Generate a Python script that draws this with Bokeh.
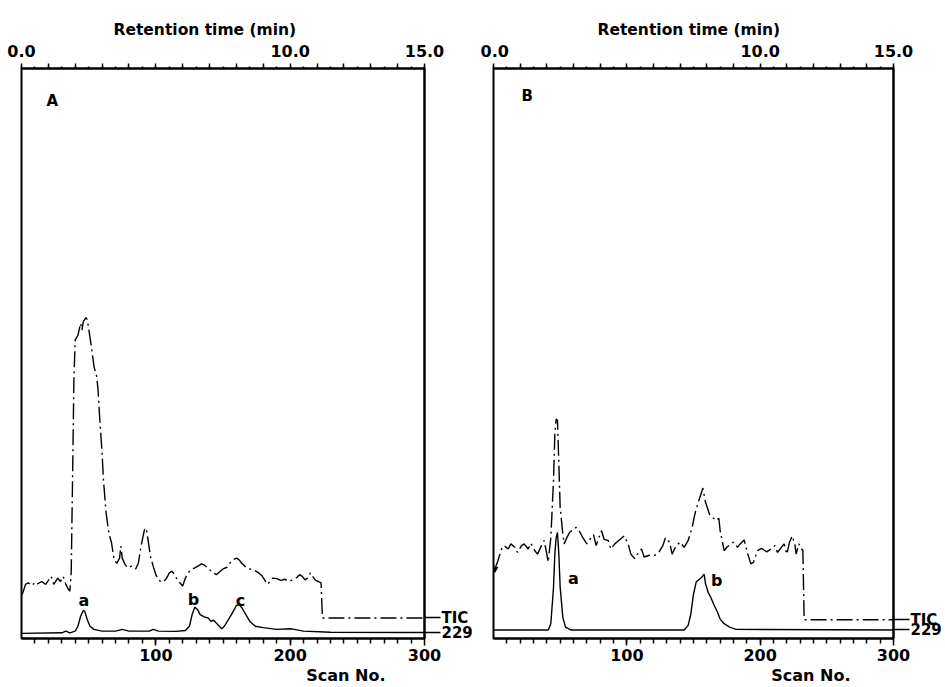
from bokeh.plotting import figure
from bokeh.models import Range1d, LinearAxis, FixedTicker, Label, ColumnDataSource, Title
from bokeh.layouts import row
from bokeh.embed import file_html
from bokeh.resources import INLINE
from bokeh.core.properties import value

FONT = "DejaVu Sans"

# ---------------- data (relative intensity, % of full scale) ----------------
# Panel A : total ion current (TIC) and m/z 229 trace
scans_tic_a = [0, 1, 3, 5, 8, 10, 12, 15, 18, 22,
               24, 27, 29, 31, 33, 35, 36, 37, 38, 39,
               40, 42, 44, 45, 46, 48, 49, 50, 52, 54,
               56, 57, 58, 60, 61, 62, 63, 65, 67, 69,
               71, 73, 74, 75, 77, 79, 82, 85, 87, 89,
               91, 92, 93, 94, 96, 98, 100, 102, 104, 106,
               108, 110, 112, 114, 116, 118, 120, 122, 124, 126,
               129, 132, 134, 136, 138, 140, 142, 145, 148, 150,
               153, 156, 158, 160, 162, 164, 167, 170, 173, 176,
               179, 181, 183, 185, 187, 190, 193, 196, 199, 202,
               205, 207, 209, 211, 213, 215, 217, 219, 221, 223,
               224, 300]
tic_a = [7.7, 8.0, 9.5, 9.75, 9.3, 9.9, 9.6, 10.0, 9.5, 10.9,
         9.5, 10.6, 10.0, 10.9, 9.5, 8.6, 8.3, 11.5, 27.8, 45.4,
         52.4, 53.2, 55.3, 54.1, 55.6, 56.3, 55.9, 54.4, 51.2, 47.7,
         45.9, 43.6, 39.5, 32.5, 27.8, 24.9, 22.0, 18.5, 16.8, 13.8,
         13.2, 14.1, 16.2, 14.1, 13.0, 12.4, 12.7, 12.2, 13.2, 16.2,
         18.5, 19.4, 19.1, 17.6, 14.4, 12.7, 11.2, 10.3, 9.9, 10.0,
         10.6, 11.5, 11.8, 11.2, 10.3, 9.75, 9.2, 10.6, 11.5, 12.1,
         12.4, 12.8, 13.1, 12.9, 12.5, 12.1, 11.6, 11.2, 11.8, 12.2,
         12.5, 13.5, 13.9, 14.1, 13.8, 13.2, 12.5, 12.2, 12.0, 11.6,
         11.0, 10.3, 9.5, 10.0, 10.6, 10.5, 10.2, 10.4, 10.0, 10.3,
         10.7, 11.2, 10.9, 10.3, 10.6, 11.5, 10.8, 10.2, 10.0, 9.75,
         3.6, 3.6]
scans_ion_a = [0, 30, 33, 36, 40, 42, 44, 46, 47, 49,
               51, 54, 60, 70, 75, 80, 95, 98, 102, 115,
               122, 125, 127, 129, 131, 133, 136, 139, 141, 143,
               146, 149, 151, 154, 157, 160, 162, 164, 167, 170,
               174, 180, 190, 200, 203, 210, 230, 300]
ion_a = [0.9, 1.0, 1.3, 1.0, 1.3, 2.15, 3.9, 4.9, 4.8, 3.3,
         2.15, 1.6, 1.3, 1.3, 1.6, 1.3, 1.3, 1.6, 1.3, 1.25,
         1.4, 2.15, 4.2, 5.5, 5.1, 4.2, 3.8, 3.6, 3.0, 3.2,
         2.45, 1.7, 2.15, 3.3, 4.5, 5.8, 5.9, 5.4, 4.2, 3.0,
         2.15, 1.9, 1.6, 1.7, 1.6, 1.3, 1.1, 1.05]
tic_level_a = 3.6
ion_level_a = 1.05
peaks_a = ["a", "b", "c"]
peak_x_a = [46.5, 128, 163]
peak_y_a = [6.6, 6.9, 6.6]

# Panel B
scans_tic_b = [1, 3, 6, 8, 11, 13, 16, 18, 21, 23,
               26, 28, 31, 33, 36, 38, 40, 41, 43, 45,
               46, 47, 48, 49, 50, 52, 53, 55, 57, 60,
               62, 65, 67, 70, 72, 75, 77, 79, 81, 83,
               86, 88, 91, 95, 98, 101, 103, 106, 108, 111,
               113, 117, 121, 124, 127, 129, 132, 134, 137, 140,
               143, 146, 149, 151, 154, 156, 157, 159, 162, 164,
               167, 169, 170, 173, 175, 178, 180, 183, 185, 188,
               190, 193, 195, 198, 201, 205, 208, 211, 213, 216,
               218, 220, 222, 224, 226, 227, 229, 231, 232, 233,
               300]
tic_b = [12.2, 13.4, 15.7, 16.3, 15.7, 16.6, 16.0, 15.1, 16.3, 16.6,
         15.7, 16.7, 15.4, 14.8, 16.3, 17.2, 14.8, 13.4, 17.7, 27.7,
         35.8, 38.5, 38.2, 30.6, 23.0, 18.3, 16.6, 17.7, 18.6, 19.2,
         19.5, 18.6, 17.7, 16.6, 17.3, 18.2, 16.3, 17.7, 18.9, 17.4,
         17.2, 15.7, 16.6, 17.4, 18.0, 16.6, 14.8, 14.0, 14.8, 15.7,
         14.3, 14.6, 14.6, 15.1, 16.3, 17.7, 16.9, 14.8, 16.3, 16.9,
         16.0, 17.2, 19.5, 21.8, 24.2, 25.6, 26.4, 23.9, 21.8, 21.3,
         20.7, 21.1, 18.9, 15.4, 16.0, 16.6, 16.9, 16.0, 16.6, 17.3,
         15.4, 13.1, 13.4, 15.4, 15.8, 15.2, 15.7, 16.3, 15.1, 16.0,
         16.6, 14.8, 16.9, 18.0, 16.6, 14.8, 16.6, 15.7, 15.5, 3.3,
         3.3]
scans_ion_b = [0, 41, 43, 45, 46, 47, 48, 49, 50, 52,
               54, 58, 143, 146, 148, 150, 152, 154, 156, 158,
               159, 161, 163, 165, 168, 170, 173, 177, 182, 300]
ion_b = [1.5, 1.5, 2.6, 9.0, 14.8, 17.7, 18.6, 14.8, 9.0, 3.7,
         2.0, 1.5, 1.5, 2.3, 4.3, 7.8, 9.9, 10.3, 10.7, 11.3,
         9.6, 8.1, 7.2, 6.1, 4.6, 3.4, 2.6, 2.0, 1.6, 1.5]
tic_level_b = 3.3
ion_level_b = 1.5
peaks_b = ["a", "b"]
peak_x_b = [60, 167.5]
peak_y_b = [10.5, 10.2]

# axis ticks
scan_labeled = [100, 200, 300]
scan_minor = list(range(10, 300, 10))
time_major = [float(t) for t in range(0, 16)]
time_minor = [t * 0.5 for t in range(0, 31)]
time_labeled = [0.0, 10.0, 15.0]


def make_panel(letter, scans_tic, tic, scans_ion, ion, tic_level, ion_level,
               peaks, peak_x, peak_y, width, border_left, border_right, border_bottom,
               letter_dx, letter_dy, title_dx, scan_dx, start_marker):
    p = figure(width=width, height=687, x_range=Range1d(0, 300), y_range=Range1d(0, 100),
               output_backend="svg", toolbar_location=None,
               x_axis_location=None, y_axis_location=None,
               min_border_left=border_left, min_border_right=border_right,
               min_border_top=68, min_border_bottom=border_bottom,
               outline_line_color="black", outline_line_width=2,
               background_fill_color="white", border_fill_color="white")
    p.xgrid.visible = False
    p.ygrid.visible = False

    common = dict(axis_line_width=2, axis_line_color="black",
                  major_tick_line_width=1.5, minor_tick_line_width=1.5,
                  major_tick_line_color="black", minor_tick_line_color="black",
                  major_label_text_font=FONT, major_label_text_font_style="bold",
                  major_label_text_font_size="16px", major_label_text_color="black")

    # bottom axis: scan number
    bx = LinearAxis(ticker=FixedTicker(ticks=scan_labeled, minor_ticks=scan_minor),
                    major_tick_out=7, major_tick_in=0, minor_tick_out=5, minor_tick_in=0,
                    major_label_standoff=3, **common)
    p.add_layout(bx, "below")
    p.add_layout(Title(text="Scan No.", align="right", offset=scan_dx, standoff=0,
                       text_font=FONT, text_font_style="bold", text_font_size="16px",
                       text_color="black"), "below")

    # top axis: retention time
    p.extra_x_ranges = {"time": Range1d(0, 15)}
    overrides = {t: ("%.1f" % t if t in time_labeled else "") for t in time_major}
    tx = LinearAxis(x_range_name="time",
                    ticker=FixedTicker(ticks=time_major, minor_ticks=time_minor),
                    major_label_overrides=overrides,
                    major_tick_out=5, major_tick_in=0, minor_tick_out=2, minor_tick_in=0,
                    major_label_standoff=7, **common)
    p.add_layout(tx, "above")
    p.add_layout(Title(text="Retention time (min)", align="left", offset=title_dx,
                       standoff=5, text_font=FONT, text_font_style="bold",
                       text_font_size="15.5px", text_color="black"), "above")

    # right axis: trace identifiers
    ry = LinearAxis(ticker=FixedTicker(ticks=[ion_level, tic_level], minor_ticks=[]),
                    major_label_overrides={ion_level: "229", tic_level: "TIC"},
                    major_tick_out=16, major_tick_in=0, major_label_standoff=1,
                    axis_line_width=2, axis_line_color="black",
                    major_tick_line_width=1.5, major_tick_line_color="black",
                    major_label_text_font=FONT, major_label_text_font_style="bold",
                    major_label_text_font_size="15px", major_label_text_color="black")
    p.add_layout(ry, "right")

    p.line(scans_tic, tic, line_color="black", line_width=1.4, line_dash="16 4 2 4")
    p.line(scans_ion, ion, line_color="black", line_width=1.4)
    if start_marker:
        p.scatter([scans_tic[0]], [tic[0]], marker="inverted_triangle", size=6,
                  color="black")

    src = ColumnDataSource(dict(x=peak_x, y=peak_y, t=peaks))
    p.text(x="x", y="y", text="t", source=src, text_align="center",
           text_baseline="alphabetic", text_font=value(FONT), text_font_style="bold",
           text_font_size=value("16px"), text_color="black")

    p.add_layout(Label(x=0, y=100, x_offset=letter_dx, y_offset=letter_dy, text=letter,
                       text_baseline="alphabetic", text_font_size="15px",
                       text_font=FONT, text_font_style="bold", text_color="black"))
    return p


pa = make_panel("A", scans_tic_a, tic_a, scans_ion_a, ion_a, tic_level_a, ion_level_a,
                peaks_a, peak_x_a, peak_y_a, 480, 21, 56, 47,
                25, -32, 92, 39, False)
pb = make_panel("B", scans_tic_b, tic_b, scans_ion_b, ion_b, tic_level_b, ion_level_b,
                peaks_b, peak_x_b, peak_y_b, 465, 13, 52, 49,
                28, -27, 104, 43, True)

layout = row(pa, pb)
open("out.html", "w").write(file_html(layout, INLINE))
